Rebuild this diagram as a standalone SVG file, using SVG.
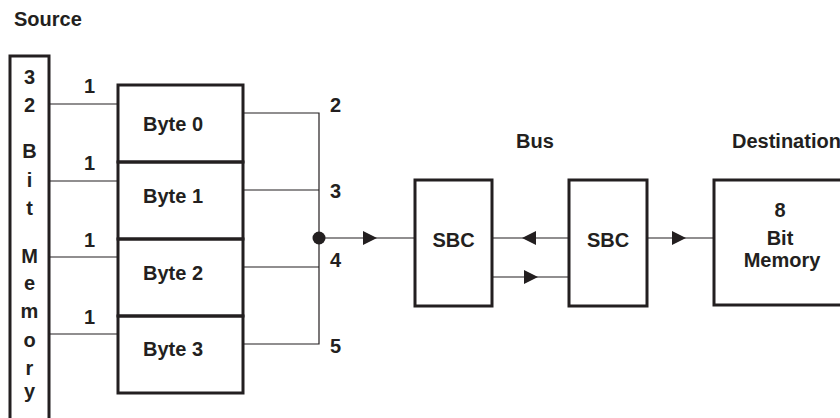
<svg xmlns="http://www.w3.org/2000/svg" xmlns:xlink="http://www.w3.org/1999/xlink" width="840" height="418" viewBox="0 0 840 418">
<style>
  text { font-family: "Liberation Sans", Arial, sans-serif; font-weight: bold; font-size: 20px; fill: #231f20; }
  .box { fill: none; stroke: #231f20; stroke-width: 3; stroke-linejoin: miter; }
  .wire { fill: none; stroke: #231f20; stroke-width: 1.2; }
  .mid { text-anchor: middle; }
  .head { fill: #231f20; }
</style>
<defs>
  <path id="ar" d="M0,0 L-14,-7 L-14,7 Z"/>
  <path id="al" d="M0,0 L14,-7 L14,7 Z"/>
</defs>
<rect width="840" height="418" fill="#ffffff"/>

<g id="source-label"><text x="14" y="26">Source</text></g>

<g id="memory32">
  <rect class="box" x="10" y="56" width="39" height="380"/>
  <text class="mid" x="29.5" y="84">3</text>
  <text class="mid" x="29.5" y="112">2</text>
  <text class="mid" x="29.5" y="158">B</text>
  <text class="mid" x="29.5" y="187">i</text>
  <text class="mid" x="29.5" y="215">t</text>
  <text class="mid" x="29.5" y="263">M</text>
  <text class="mid" x="29.5" y="290">e</text>
  <text class="mid" x="29.5" y="318">m</text>
  <text class="mid" x="29.5" y="347">o</text>
  <text class="mid" x="29.5" y="375">r</text>
  <text class="mid" x="29.5" y="398">y</text>
</g>

<g id="byte0"><rect class="box" x="118" y="85" width="125" height="77"/><text x="143" y="131">Byte 0</text></g>
<g id="byte1"><rect class="box" x="118" y="162" width="125" height="77"/><text x="143" y="203">Byte 1</text></g>
<g id="byte2"><rect class="box" x="118" y="239" width="125" height="77"/><text x="143" y="280">Byte 2</text></g>
<g id="byte3"><rect class="box" x="118" y="316" width="125" height="77"/><text x="143" y="356">Byte 3</text></g>

<g id="bus-label"><text x="516" y="148">Bus</text></g>
<g id="destination-label"><text x="732" y="148">Destination</text></g>

<g id="sbc1"><rect class="box" x="415" y="180" width="77" height="126"/><text class="mid" x="453.5" y="247">SBC</text></g>
<g id="sbc2"><rect class="box" x="569" y="180" width="78" height="126"/><text class="mid" x="608" y="247">SBC</text></g>
<g id="memory8">
  <rect class="box" x="714" y="180" width="140" height="125"/>
  <text class="mid" x="780" y="217">8</text>
  <text class="mid" x="780" y="245">Bit</text>
  <text class="mid" x="782" y="267">Memory</text>
</g>

<g id="connectors">
  <path class="wire" d="M49,104 H118 M49,181 H118 M49,257 H118 M49,334 H118"/>
  <path class="wire" d="M243,113 H319 V344 H243 M243,190 H319 M243,267 H319"/>
  <circle cx="319" cy="238" r="6.5" fill="#231f20"/>
  <path class="wire" d="M319,238 H415"/>
  <use xlink:href="#ar" class="head" x="377" y="238"/>
  <path class="wire" d="M492,238 H569 M492,277 H569"/>
  <use xlink:href="#al" class="head" x="522" y="238"/>
  <use xlink:href="#ar" class="head" x="538" y="277"/>
  <path class="wire" d="M647,238 H714"/>
  <use xlink:href="#ar" class="head" x="686" y="238"/>
  <text x="84" y="93">1</text>
  <text x="84" y="170">1</text>
  <text x="84" y="247">1</text>
  <text x="84" y="324">1</text>
  <text x="330" y="112">2</text>
  <text x="330" y="198">3</text>
  <text x="330" y="267">4</text>
  <text x="330" y="353">5</text>
</g>
</svg>
